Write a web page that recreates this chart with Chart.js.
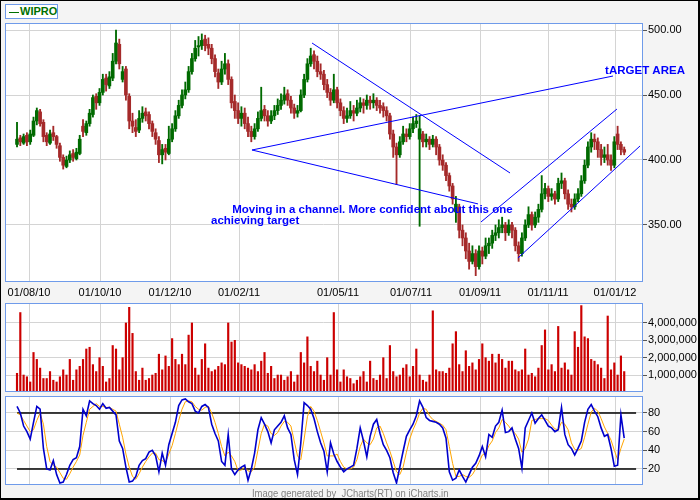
<!DOCTYPE html>
<html>
<head>
<meta charset="utf-8">
<script src="https://cdn.jsdelivr.net/npm/chart.js@4.4.1/dist/chart.umd.min.js"></script>
<style>
  body { margin: 0; background: #fff; }
  #wrap { position: relative; width: 700px; height: 500px; background: #f4f4f4; overflow: hidden; }
  #wrap canvas { position: absolute; left: 0; }
  #frame { position: absolute; left: 0; top: 0; width: 700px; height: 500px; box-sizing: border-box;
    border-left: 1px solid #000; border-top: 1px solid #000; border-right: 2px solid #000; border-bottom: 2px solid #000; }
  #legend { position: absolute; left: 5px; top: 4px; width: 51px; height: 13px; border: 1px solid #6f9bea; background: #fff;
    font: bold 11px "Liberation Sans", Arial, sans-serif; color: #007000; line-height: 13px; white-space: nowrap; }
  #legend span { display: inline-block; width: 10px; border-top: 1px solid #007000; vertical-align: middle; margin: 0 1px 0 3px; }
  #foot { position: absolute; left: 0; width: 700px; top: 486px; text-align: center; line-height: 12px; }
  #foot span { display: inline-block; transform: scaleX(0.86); font: 11px "Liberation Sans", Arial, sans-serif; color: #808080; white-space: pre; }
</style>
</head>
<body>
<div id="wrap">
  <canvas id="priceChart" width="700" height="300" style="top:0"></canvas>
  <canvas id="volChart" width="700" height="110" style="top:290px"></canvas>
  <canvas id="stochChart" width="700" height="110" style="top:383px"></canvas>
  <div id="legend"><span></span>WIPRO</div>
  <div id="foot"><span>Image generated by  JCharts(RT) on iCharts.in</span></div>
  <div id="frame"></div>
</div>
<script>
// x axis = bar number (each bar ~2 trading days), date labels placed on it
const tickPos = [3.64, 25.15, 46.36, 67.27, 97.27, 119.39, 140.3, 160.91, 181.21]
const tickLabels = ['01/08/10', '01/10/10', '01/12/10', '01/02/11', '01/05/11', '01/07/11', '01/09/11', '01/11/11', '01/01/12']
const priceTicks = [350, 400, 450, 500]
const volTicks = [1, 2, 3, 4] // millions
const stochTicks = [20, 40, 60, 80]
const stochLevels = [80, 20]

const open = [412,417,413,419,414,419,430,437,429,419,
413,421,418,411,402,395,400,405,401,405,
426,421,428,435,449,444,452,463,457,463,
476,489,462,470,449,430,425,423,432,437,
435,428,421,415,404,409,405,416,424,434,
442,450,454,468,478,487,488,493,489,486,
478,467,460,470,474,462,445,438,432,436,
428,422,418,424,432,439,434,430,434,438,
442,446,451,446,440,436,438,450,462,474,
481,476,468,466,458,452,446,454,444,438,
432,434,438,436,440,444,442,446,444,446,
442,441,438,434,420,410,404,414,420,418,
424,428,416,420,414,416,412,416,410,400,
396,388,380,360,364,346,340,330,322,328,
318,330,326,334,336,342,344,348,350,344,
350,346,334,328,340,350,358,350,356,362,
374,378,372,374,370,382,384,374,366,364,
370,374,384,396,410,416,414,408,402,404,
400,396,420,412,408]
const high = [429,419,420,421,423,433,440,439,431,421,
423,426,419,413,404,403,407,408,409,419,
431,430,439,450,451,455,466,466,468,482,
500,493,472,472,451,436,431,438,441,440,
437,430,424,418,412,412,426,428,438,446,
454,460,472,482,492,495,497,496,494,489,
481,470,476,482,477,464,450,444,441,440,
433,426,428,437,456,442,438,438,442,447,
451,456,454,449,443,442,454,466,478,486,
484,480,474,469,462,455,466,456,447,441,
440,445,442,446,448,447,450,449,451,448,
446,444,441,436,423,413,418,426,424,428,
433,435,434,422,420,418,419,418,412,404,
398,390,382,372,366,350,344,336,334,331,
334,333,340,340,346,350,354,356,352,354,
352,348,337,344,354,364,360,360,366,388,
382,380,378,376,386,390,386,377,370,374,
378,388,400,414,421,420,417,412,410,412,
404,418,426,414,410]
const low = [410,411,412,411,412,418,427,426,414,411,
412,415,409,399,393,394,398,399,400,404,
418,419,426,433,439,442,450,453,455,461,
474,470,460,446,424,421,418,421,429,430,
424,418,412,398,397,400,404,414,422,432,
440,447,452,466,476,480,485,484,481,474,
464,455,458,466,458,440,432,428,426,424,
418,414,416,422,430,430,426,428,431,435,
439,443,442,436,432,433,437,448,460,472,
470,464,462,454,448,442,444,440,434,428,
429,432,430,434,437,436,439,439,440,438,
436,433,430,416,402,381,402,412,414,416,
421,425,349,410,410,408,410,404,396,392,
384,376,366,352,340,334,324,316,320,311,
316,320,324,328,332,338,340,344,338,342,
340,330,322,326,338,348,346,348,352,360,
370,368,369,366,368,378,370,362,360,362,
368,372,382,394,406,408,402,396,398,396,
392,394,408,404,404]
const close = [416,414,418,414,420,430,438,428,418,414,
420,418,412,402,396,400,404,402,406,416,
422,428,436,448,444,452,462,458,464,476,
490,474,468,450,430,426,422,432,436,434,
428,422,416,404,408,406,416,424,434,442,
450,454,468,478,486,488,492,488,486,478,
468,460,470,474,462,444,438,432,436,428,
422,418,424,432,438,434,430,434,438,442,
446,450,446,440,436,438,450,462,474,480,
476,468,466,458,452,446,454,444,438,432,
434,438,436,440,444,442,446,444,446,442,
440,438,434,420,410,404,414,420,418,424,
428,430,424,414,416,412,416,410,400,396,
388,380,370,366,346,340,330,322,328,318,
330,326,334,336,342,344,348,350,344,350,
346,334,328,340,350,358,350,356,362,374,
378,372,374,370,382,384,374,366,364,370,
374,384,396,410,416,414,408,402,404,400,
396,414,412,408,406]
// volume in millions
const volume = [1.1,4.6,1.0,0.9,0.6,2.3,1.9,1.4,0.8,0.8,
1.2,0.7,0.6,0.9,1.3,1.0,1.9,0.7,1.3,1.5,
1.9,2.5,2.6,1.6,1.2,2.0,1.5,0.6,0.8,2.7,
2.5,1.3,2.0,4.0,4.9,3.4,1.2,0.7,1.4,0.7,
0.8,1.0,1.1,2.2,1.3,2.1,1.5,3.1,1.9,1.6,
2.2,1.6,3.3,4.0,1.4,1.0,1.9,2.8,1.4,1.2,
1.3,1.5,1.7,1.6,4.0,2.9,3.0,1.7,1.6,1.5,
1.4,1.3,1.6,1.2,1.8,2.3,1.1,1.5,0.8,1.0,
1.0,0.7,0.9,1.2,0.6,1.0,2.3,1.7,3.2,1.5,
1.2,1.8,1.0,0.7,2.0,1.0,4.6,1.3,0.6,1.3,
0.9,0.8,0.5,0.7,0.9,1.2,0.6,1.8,0.8,0.7,
1.0,2.0,0.8,2.7,1.2,0.9,1.0,1.4,1.6,0.9,
1.5,2.5,1.0,0.7,0.6,1.0,4.7,1.3,1.2,1.2,
1.1,1.4,2.8,3.5,1.6,1.2,2.4,1.5,1.7,1.3,
1.9,2.8,2.0,1.8,2.2,1.7,2.2,1.9,1.4,1.8,
1.8,1.3,1.2,1.3,2.5,1.0,1.1,0.9,1.4,2.7,
3.6,1.3,1.6,1.2,3.8,1.4,1.7,1.3,1.0,3.5,
2.6,5.0,3.2,3.1,1.9,1.8,1.6,1.4,0.8,4.4,
1.3,1.7,1.0,2.1,1.2]
const stochK = [87,80,66,60,52,70,87,84,42,20,
19,29,14,5,6,14,24,30,32,44,
84,77,93,90,88,84,90,85,86,82,
78,50,42,22,6,7,12,24,29,31,
38,40,34,17,37,24,46,58,70,88,
94,95,92,90,82,80,87,89,86,68,
58,50,28,24,57,20,14,19,22,24,
8,20,37,62,75,68,60,48,62,66,
70,77,64,57,30,14,48,91,88,84,
74,60,48,39,17,48,36,28,22,17,
20,22,24,42,64,50,33,55,68,73,
58,46,40,32,16,5,22,39,55,62,
68,77,93,86,75,72,71,70,68,64,
53,17,8,10,19,12,6,14,22,26,
34,44,33,57,54,66,70,83,59,60,
64,52,42,21,64,72,80,69,74,78,
72,66,64,60,62,86,57,46,42,35,
42,50,70,84,89,82,76,64,55,57,
42,23,24,78,53]
const stochD = [80,78,72,66,60,62,72,80,68,44,
28,24,22,16,10,9,15,22,28,35,
56,70,84,87,90,87,87,86,86,84,
82,68,54,36,22,12,9,15,22,28,
33,37,37,30,29,27,36,45,58,72,
84,92,93,92,87,84,83,86,87,80,
70,58,44,34,38,34,28,18,19,22,
18,17,22,40,58,68,66,58,56,59,
66,71,70,66,50,34,30,52,76,87,
82,72,60,48,34,34,34,36,28,22,
20,20,22,30,44,52,48,46,52,64,
66,58,48,39,28,17,14,22,38,52,
62,70,80,85,84,77,73,71,69,67,
62,44,26,12,12,14,12,11,14,20,
27,35,37,45,50,59,64,73,70,66,
61,58,52,38,42,52,72,73,74,74,
74,72,67,63,62,70,68,62,48,41,
40,42,54,68,81,85,82,74,65,58,
51,40,30,42,52]

// hand drawn lines on the price panel: [x1, y1, x2, y2] in bar number / price
const trendLines = [
  [71.2, 407.7, 139.7, 366.2],
  [71.2, 407.7, 180.6, 464.6],
  [89.4, 490.0, 149.4, 390.0],
  [151.8, 324.6, 188.8, 410.8],
  [140.6, 352.3, 181.8, 439.2]
]
const notes = [
  { text: 'Moving in a channel. More confident about this one', x: 65.2, y: 359.2 },
  { text: 'achieving target', x: 58.8, y: 350.8 },
  { text: 'tARGET AREA', x: 178.2, y: 466.2 }
]

const xMin = -3.64, xMax = 189.39
const gridColor = '#d4d4d4'
const axisFont = { family: 'Liberation Sans', size: 11 }
const upColor = '#006a00', downColor = '#a52a2a'

Chart.defaults.font.family = 'Liberation Sans'
Chart.defaults.animation = false
Chart.defaults.plugins.legend.display = false
Chart.defaults.plugins.tooltip.enabled = false

const idx = close.map((c, i) => i)
const candleColors = idx.map(i => close[i] >= open[i] ? upColor : downColor)

// white plot area and blue frame round it
const framePlugin = {
  id: 'frame',
  beforeDraw(chart) {
    const { ctx, chartArea: a } = chart
    ctx.save()
    ctx.fillStyle = '#fff'
    ctx.fillRect(a.left, a.top, a.right - a.left, a.bottom - a.top)
    ctx.restore()
  },
  afterDraw(chart) {
    const { ctx, chartArea: a } = chart
    ctx.save()
    ctx.strokeStyle = '#6f9bea'
    ctx.lineWidth = 1
    ctx.strokeRect(a.left + 0.5, a.top + 0.5, a.right - a.left, a.bottom - a.top)
    ctx.restore()
  }
}

const notesPlugin = {
  id: 'notes',
  afterDraw(chart) {
    const ctx = chart.ctx
    ctx.save()
    ctx.fillStyle = '#0000ff'
    ctx.font = 'bold 11.5px "Liberation Sans", Arial, sans-serif'
    ctx.textBaseline = 'alphabetic'
    notes.forEach(n => {
      ctx.fillText(n.text, chart.scales.x.getPixelForValue(n.x), chart.scales.y.getPixelForValue(n.y))
    })
    ctx.restore()
  }
}

function xAxis(showLabels, h) {
  return {
    type: 'linear', min: xMin, max: xMax, offset: false,
    afterBuildTicks: s => { s.ticks = tickPos.map(v => ({ value: v })) },
    afterFit: s => { s.height = h },
    grid: { color: gridColor, drawTicks: false, offset: false },
    border: { display: false },
    ticks: { display: showLabels, autoSkip: false, maxRotation: 0, padding: 5, font: axisFont, color: '#000',
      callback: (v, i) => tickLabels[i] }
  }
}

function yAxis(min, max, ticks, fmt) {
  return {
    position: 'right', min: min, max: max,
    afterBuildTicks: s => { s.ticks = ticks.map(v => ({ value: v })) },
    afterFit: s => { s.width = 58 },
    grid: { color: gridColor, drawTicks: true, tickLength: 5, tickColor: '#555' },
    border: { display: false },
    ticks: { padding: 1, font: axisFont, color: '#000', callback: fmt }
  }
}

// price panel
new Chart(document.getElementById('priceChart'), {
  type: 'bar',
  data: {
    datasets: [
      ...trendLines.map(t => ({
        type: 'line', order: 0,
        data: [{ x: t[0], y: t[1] }, { x: t[2], y: t[3] }],
        borderColor: '#0000ff', borderWidth: 1, pointRadius: 0
      })),
      {
        order: 1, grouped: false, barThickness: 3, minBarLength: 1,
        data: idx.map(i => ({ x: i, y: [open[i], close[i]] })),
        backgroundColor: candleColors
      },
      {
        order: 2, grouped: false, barThickness: 1.2,
        data: idx.map(i => ({ x: i, y: [low[i], high[i]] })),
        backgroundColor: candleColors
      }
    ]
  },
  options: {
    responsive: false,
    devicePixelRatio: 1,
    layout: { padding: { left: 5, top: 23, right: 0, bottom: 0 } },
    scales: {
      x: xAxis(true, 19),
      y: yAxis(306.9, 505.4, priceTicks, v => v.toFixed(2))
    }
  },
  plugins: [framePlugin, notesPlugin]
})

// volume panel
new Chart(document.getElementById('volChart'), {
  type: 'bar',
  data: {
    datasets: [{
      grouped: false, barThickness: 1.5,
      data: idx.map(i => ({ x: i, y: volume[i] })),
      backgroundColor: '#cc0000'
    }]
  },
  options: {
    responsive: false,
    devicePixelRatio: 1,
    layout: { padding: { left: 5, top: 13, right: 0, bottom: 0 } },
    scales: {
      x: xAxis(false, 9),
      y: yAxis(0.08, 5.15, volTicks, v => (v * 1000000).toLocaleString('en-US'))
    }
  },
  plugins: [framePlugin]
})

// stochastic panel
new Chart(document.getElementById('stochChart'), {
  type: 'line',
  data: {
    datasets: [
      { order: 0, data: idx.map(i => ({ x: i, y: stochK[i] })), borderColor: '#0000cc', borderWidth: 1.6, pointRadius: 0, tension: 0 },
      { order: 1, data: idx.map(i => ({ x: i, y: stochD[i] })), borderColor: '#ffa500', borderWidth: 1, pointRadius: 0, tension: 0 },
      ...stochLevels.map(l => ({
        order: 2, data: [{ x: 0, y: l }, { x: 187.6, y: l }],
        borderColor: '#000', borderWidth: 1.5, pointRadius: 0
      }))
    ]
  },
  options: {
    responsive: false,
    devicePixelRatio: 1,
    layout: { padding: { left: 5, top: 13, right: 0, bottom: 0 } },
    scales: {
      x: xAxis(false, 9),
      y: yAxis(3.9, 98.2, stochTicks, v => String(v))
    }
  },
  plugins: [framePlugin]
})
</script>
</body>
</html>
